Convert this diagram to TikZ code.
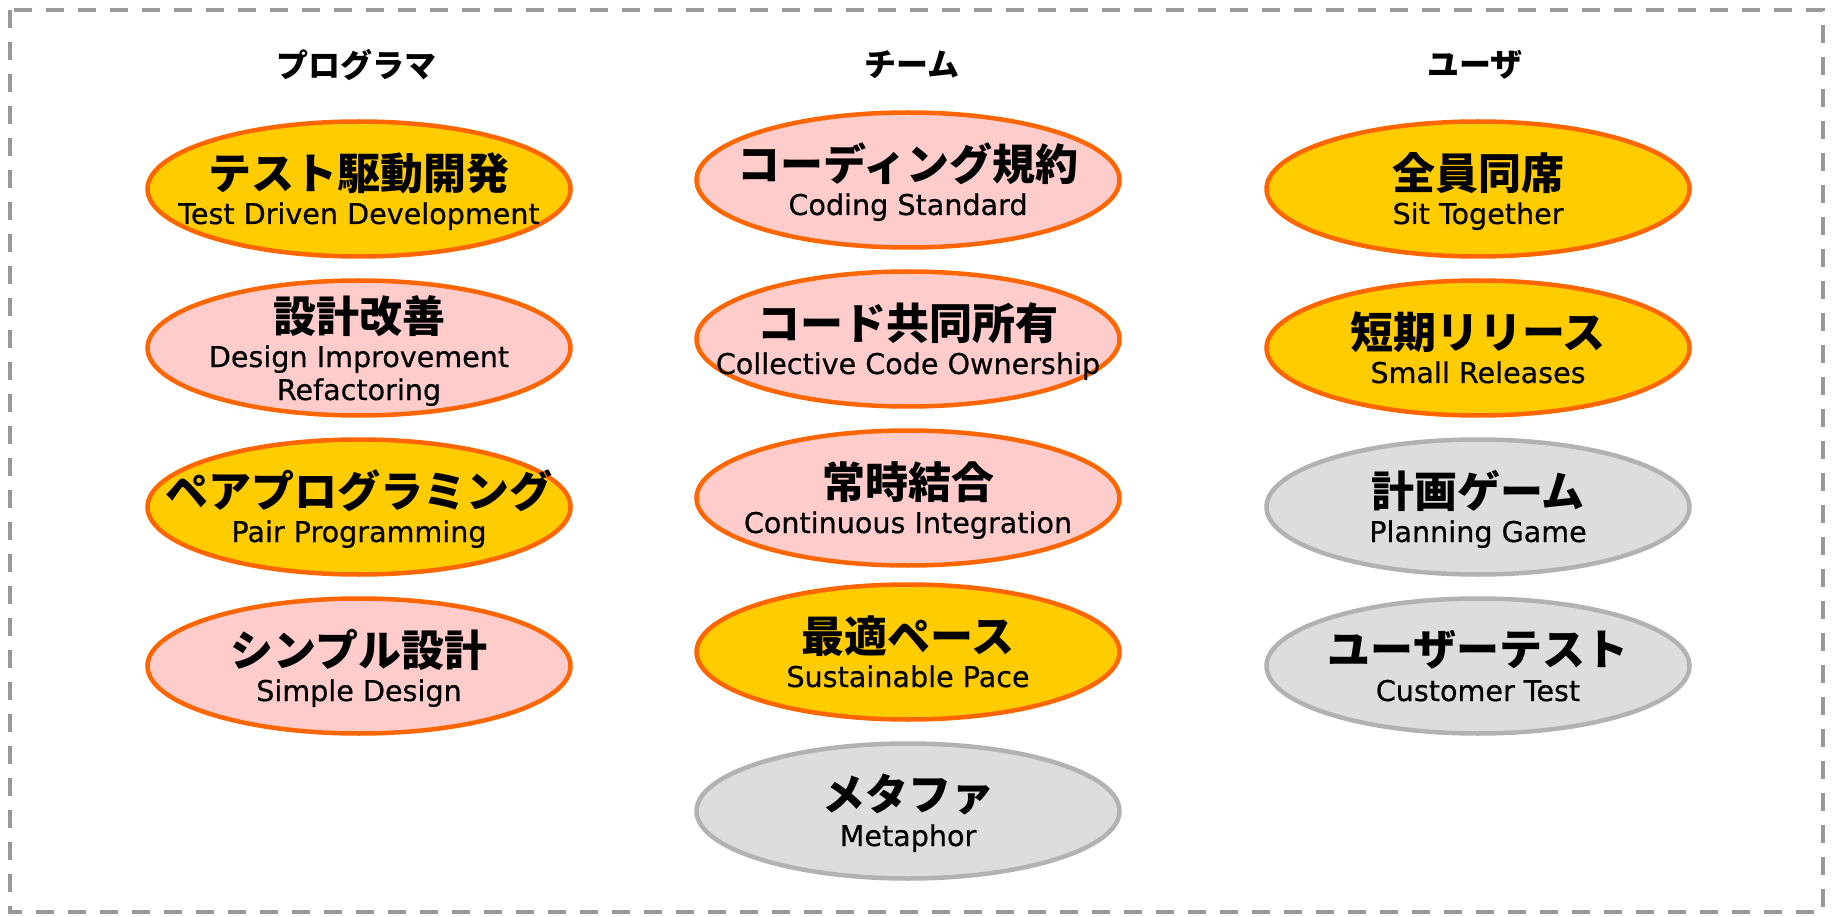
\documentclass[tikz,border=0pt]{standalone}
\usepackage{fontspec}
\usetikzlibrary{shapes.geometric}
\newfontfamily\jpf{Noto Sans CJK JP}
\newfontfamily\enf{DejaVu Sans}[FakeBold=0.6]
\definecolor{orng}{HTML}{FF6600}
\definecolor{pinkc}{HTML}{FFCCCC}
\definecolor{yelc}{HTML}{FFCC00}
\definecolor{grayf}{HTML}{DDDDDD}
\definecolor{grayd}{HTML}{B2B2B2}
\definecolor{brd}{HTML}{999999}
\begin{document}
\begin{tikzpicture}[x=1pt,y=1pt,
  pr/.style={ellipse, draw=orng, line width=4.5pt, fill=pinkc, minimum width=423pt, minimum height=135pt, inner sep=0pt},
  yl/.style={pr, fill=yelc},
  gr/.style={pr, draw=grayd, fill=grayf},
  jt/.style={font=\jpf\bfseries\fontsize{43}{48}\selectfont, inner sep=0pt},
  et/.style={font=\enf\fontsize{28.6}{32}\selectfont, inner sep=0pt, anchor=base},
  hd/.style={font=\jpf\bfseries\fontsize{32}{36}\selectfont, inner sep=0pt},
  frame/.style={draw=brd, line width=4pt, dash pattern=on 18pt off 14pt}]
\useasboundingbox (0,0) rectangle (1832,-917);
\draw[frame] (10,-10) rectangle (1823,-912);
% headers
\node[hd] (h1) at (356,-65) {プログラマ};
\node[hd] (h2) at (912,-65) {チーム};
\node[hd] (h3) at (1475,-65) {ユーザ};
% column 1
\node[yl] (tdd) at (359,-189) {};
\node[jt] (tddj) at ([yshift=16pt]tdd.center) {テスト駆動開発};
\node[et] (tdde) at ([yshift=-35pt]tdd.center) {Test Driven Development};
\node[pr] (ref) at (359,-348) {};
\node[jt] (refj) at ([yshift=32pt]ref.center) {設計改善};
\node[et] (refe) at ([yshift=-19pt]ref.center) {Design Improvement};
\node[et] (refe2) at ([yshift=-52pt]ref.center) {Refactoring};
\node[yl] (pair) at (359,-507) {};
\node[jt] (pairj) at ([yshift=16pt]pair.center) {ペアプログラミング};
\node[et] (paire) at ([yshift=-35pt]pair.center) {Pair Programming};
\node[pr] (simp) at (359,-666) {};
\node[jt] (simpj) at ([yshift=16pt]simp.center) {シンプル設計};
\node[et] (simpe) at ([yshift=-35pt]simp.center) {Simple Design};
% column 2
\node[pr] (cs) at (908,-180) {};
\node[jt] (csj) at ([yshift=16pt]cs.center) {コーディング規約};
\node[et] (cse) at ([yshift=-35pt]cs.center) {Coding Standard};
\node[pr] (cco) at (908,-339) {};
\node[jt] (ccoj) at ([yshift=16pt]cco.center) {コード共同所有};
\node[et] (ccoe) at ([yshift=-35pt]cco.center) {Collective Code Ownership};
\node[pr] (ci) at (908,-498) {};
\node[jt] (cij) at ([yshift=16pt]ci.center) {常時結合};
\node[et] (cie) at ([yshift=-35pt]ci.center) {Continuous Integration};
\node[yl] (sp) at (908,-652) {};
\node[jt] (spj) at ([yshift=16pt]sp.center) {最適ペース};
\node[et] (spe) at ([yshift=-35pt]sp.center) {Sustainable Pace};
\node[gr] (met) at (908,-811) {};
\node[jt] (metj) at ([yshift=16pt]met.center) {メタファ};
\node[et] (mete) at ([yshift=-35pt]met.center) {Metaphor};
% column 3
\node[yl] (sit) at (1478,-189) {};
\node[jt] (sitj) at ([yshift=16pt]sit.center) {全員同席};
\node[et] (site) at ([yshift=-35pt]sit.center) {Sit Together};
\node[yl] (sr) at (1478,-348) {};
\node[jt] (srj) at ([yshift=16pt]sr.center) {短期リリース};
\node[et] (sre) at ([yshift=-35pt]sr.center) {Small Releases};
\node[gr] (pg) at (1478,-507) {};
\node[jt] (pgj) at ([yshift=16pt]pg.center) {計画ゲーム};
\node[et] (pge) at ([yshift=-35pt]pg.center) {Planning Game};
\node[gr] (ct) at (1478,-666) {};
\node[jt] (ctj) at ([yshift=16pt]ct.center) {ユーザーテスト};
\node[et] (cte) at ([yshift=-35pt]ct.center) {Customer Test};
\end{tikzpicture}
\end{document}
